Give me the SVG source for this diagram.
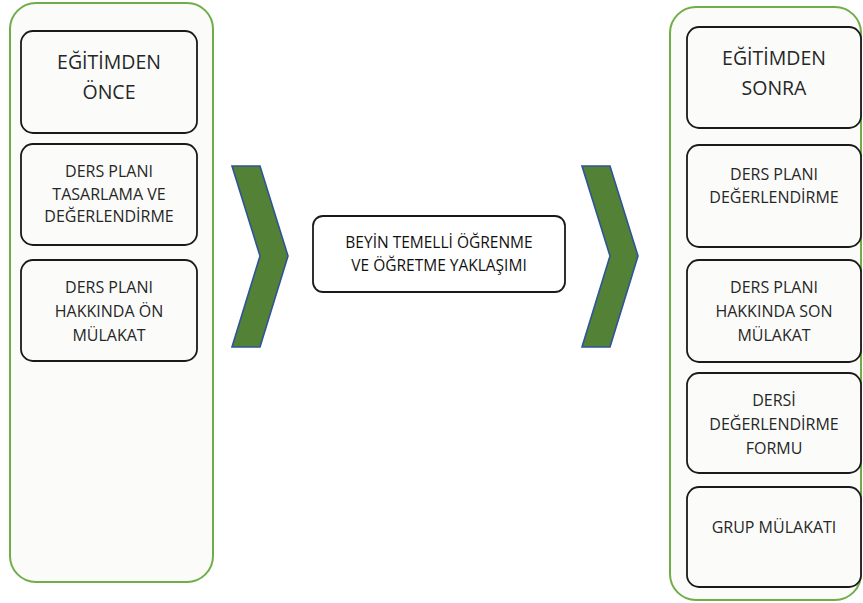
<svg xmlns="http://www.w3.org/2000/svg" width="863" height="603" viewBox="0 0 863 603">
<style>
.cont{fill:#fbfcfa;stroke:#70ad47;stroke-width:2}
.box{fill:#fbfcfa;stroke:#1a1a1a;stroke-width:1.8}
.cbox{fill:#ffffff;stroke:#1a1a1a;stroke-width:1.8}
.chev{fill:#538135;stroke:#2f5597;stroke-width:1.6;stroke-linejoin:miter}
text{font-family:"Open Sans","Noto Sans","Liberation Sans",sans-serif;fill:#262626;text-anchor:middle}
.big{font-size:19.5px}
.sm{font-size:16px}
.ct{font-size:15.5px;fill:#111}
</style>
<rect width="863" height="603" fill="#ffffff"/>
<g id="left-container">
<rect class="cont" x="10" y="3" width="203" height="579" rx="26"/>
</g>
<g id="before">
<rect class="box" x="21" y="31" width="176" height="102" rx="12"/>
<text class="big" x="109" y="69">EĞİTİMDEN</text>
<text class="big" x="109" y="99">ÖNCE</text>
</g>
<g id="plan-design">
<rect class="box" x="21" y="144" width="176" height="101" rx="12"/>
<text class="sm" x="109" y="177">DERS PLANI</text>
<text class="sm" x="109" y="200">TASARLAMA VE</text>
<text class="sm" x="109" y="222">DEĞERLENDİRME</text>
</g>
<g id="pre-interview">
<rect class="box" x="21" y="260" width="176" height="101" rx="12"/>
<text class="sm" x="109" y="293">DERS PLANI</text>
<text class="sm" x="109" y="317">HAKKINDA ÖN</text>
<text class="sm" x="109" y="341">MÜLAKAT</text>
</g>
<g id="chevron-1">
<polygon class="chev" points="232,166 260,166 288,256 260,347 232,347 260,256"/>
</g>
<g id="approach">
<rect class="cbox" x="313" y="216" width="252" height="76" rx="10"/>
<text class="ct" x="439" y="248">BEYİN TEMELLİ ÖĞRENME</text>
<text class="ct" x="439" y="271">VE ÖĞRETME YAKLAŞIMI</text>
</g>
<g id="chevron-2">
<polygon class="chev" points="582,166 610,166 638,256 610,347 582,347 610,256"/>
</g>
<g id="right-container">
<rect class="cont" x="670" y="7" width="191" height="593" rx="26"/>
</g>
<g id="after">
<rect class="box" x="687" y="27" width="174" height="101" rx="12"/>
<text class="big" x="774" y="65">EĞİTİMDEN</text>
<text class="big" x="774" y="95">SONRA</text>
</g>
<g id="plan-eval">
<rect class="box" x="687" y="145" width="174" height="102" rx="12"/>
<text class="sm" x="774" y="180">DERS PLANI</text>
<text class="sm" x="774" y="203">DEĞERLENDİRME</text>
</g>
<g id="post-interview">
<rect class="box" x="687" y="260" width="174" height="102" rx="12"/>
<text class="sm" x="774" y="293">DERS PLANI</text>
<text class="sm" x="774" y="317">HAKKINDA SON</text>
<text class="sm" x="774" y="341">MÜLAKAT</text>
</g>
<g id="course-form">
<rect class="box" x="687" y="373" width="174" height="100" rx="12"/>
<text class="sm" x="774" y="406">DERSİ</text>
<text class="sm" x="774" y="430">DEĞERLENDİRME</text>
<text class="sm" x="774" y="454">FORMU</text>
</g>
<g id="group-interview">
<rect class="box" x="687" y="487" width="174" height="100" rx="12"/>
<text class="sm" x="774" y="533">GRUP MÜLAKATI</text>
</g>
<g id="connectors"></g>
</svg>
